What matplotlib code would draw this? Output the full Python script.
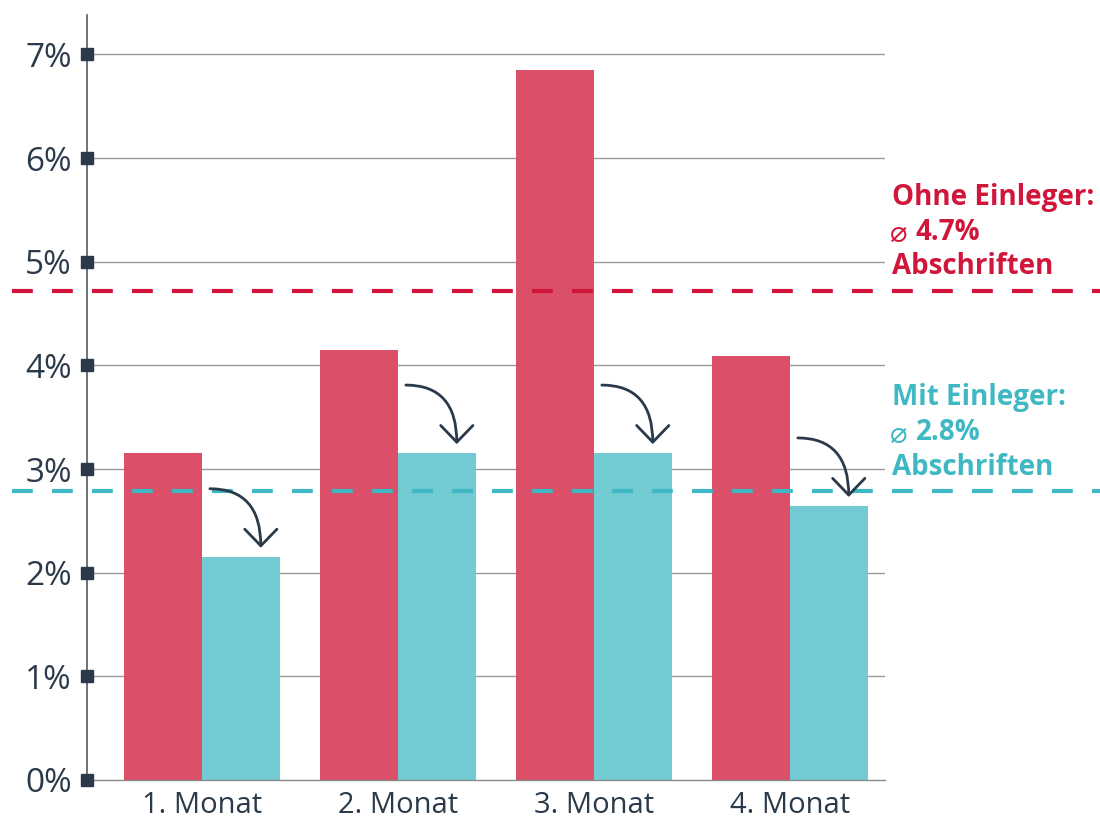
import matplotlib.pyplot as plt
import numpy as np

# data
months = ['1. Monat', '2. Monat', '3. Monat', '4. Monat']
ohne = [3.15, 4.15, 6.85, 4.09]
mit = [2.15, 3.15, 3.15, 2.64]
avg_ohne = 4.72
avg_mit = 2.79
yticks = [0, 1, 2, 3, 4, 5, 6, 7]

RED_BAR = '#db4f69'
TEAL_BAR = '#72cbd3'
RED = '#d0163b'
TEAL = '#3fb8c3'
DARK = '#2b3a4a'

plt.rcParams['font.family'] = ['Open Sans', 'DejaVu Sans']

fig = plt.figure(figsize=(11, 8.18), dpi=100)
ax = fig.add_axes([87 / 1100, 38 / 818, 798 / 1100, 765 / 818])

x = np.arange(len(months))
w = 0.398
ax.bar(x - w / 2, ohne, w, color=RED_BAR, zorder=2)
ax.bar(x + w / 2, mit, w, color=TEAL_BAR, zorder=2)

ax.set_xlim(-0.587, 3.485)
ax.set_ylim(0, 7.38)

# grid lines
for t in yticks[1:]:
    ax.axhline(t, color='#9a9a9a', lw=1, zorder=1)

# average lines across the whole figure
x0 = -87 / 798 + 12 / 798
x1 = (1100 - 87) / 798
ax.axhline(avg_ohne, x0, x1, color=RED, lw=3, dashes=(5, 4.6), clip_on=False, zorder=3)
ax.axhline(avg_mit, x0, x1, color=TEAL, lw=3, dashes=(5, 4.6), clip_on=False, zorder=3)

# arrows from red to teal bars
for i, m in enumerate(mit):
    ax.annotate('', xy=(i + 0.3, m + 0.09), xytext=(i + 0.04, m + 0.66),
                arrowprops=dict(arrowstyle='->,head_length=0.6,head_width=0.58',
                                connectionstyle='angle3,angleA=0,angleB=90',
                                mutation_scale=20, shrinkA=0, shrinkB=0,
                                color=DARK, lw=2),
                zorder=4)

# axes styling
for s in ['top', 'right']:
    ax.spines[s].set_visible(False)
ax.spines['left'].set_color('#555a60')
ax.spines['left'].set_linewidth(1.2)
ax.spines['bottom'].set_color('#8a8a8a')
ax.spines['bottom'].set_linewidth(1)

ax.set_yticks(yticks)
ax.set_yticklabels([f'{t}%' for t in yticks])
ax.tick_params(axis='y', length=0, pad=11, labelsize=24, labelcolor=DARK)
ax.set_xticks(x)
ax.set_xticklabels(months)
ax.tick_params(axis='x', length=0, pad=8, labelsize=21, labelcolor=DARK)

# square markers on the y axis
ax.plot([-0.587] * len(yticks), yticks, 's', color=DARK, ms=8.5,
        clip_on=False, zorder=5)

# side labels
fig.text(892 / 1100, 1 - 197 / 818, 'Ohne Einleger:', color=RED,
         fontsize=20, fontweight='bold', va='center')
fig.text(890 / 1100, 1 - 234 / 818, '\u2300', color=RED, fontsize=21, va='center')
fig.text(916 / 1100, 1 - 232 / 818, '4.7%', color=RED, fontsize=20,
         fontweight='bold', va='center')
fig.text(892 / 1100, 1 - 267 / 818, 'Abschriften', color=RED, fontsize=20,
         fontweight='bold', va='center')

fig.text(892 / 1100, 1 - 398 / 818, 'Mit Einleger:', color=TEAL,
         fontsize=20, fontweight='bold', va='center')
fig.text(890 / 1100, 1 - 435 / 818, '\u2300', color=TEAL, fontsize=21, va='center')
fig.text(916 / 1100, 1 - 433 / 818, '2.8%', color=TEAL, fontsize=20,
         fontweight='bold', va='center')
fig.text(892 / 1100, 1 - 467 / 818, 'Abschriften', color=TEAL, fontsize=20,
         fontweight='bold', va='center')

fig.savefig('out.png', dpi=100)
